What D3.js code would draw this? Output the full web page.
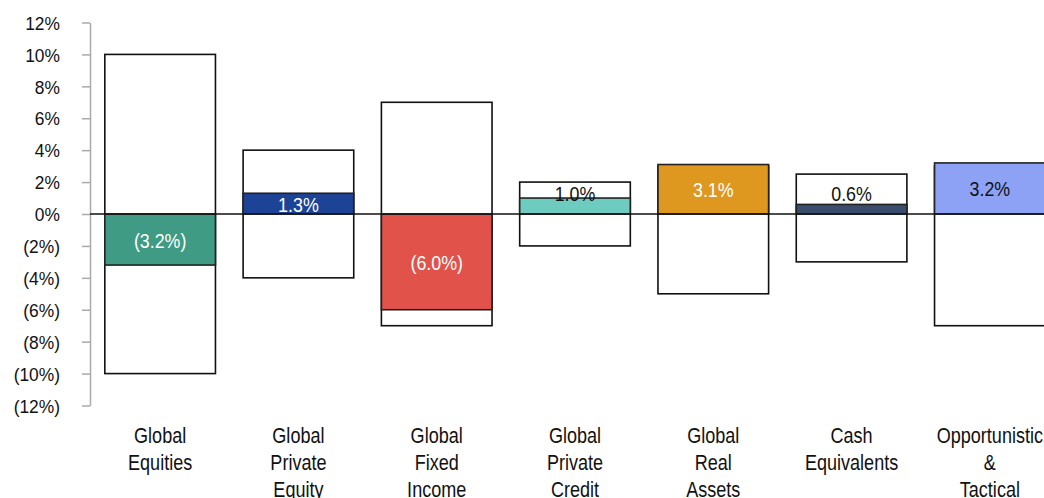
<!DOCTYPE html>
<html>
<head>
<meta charset="utf-8">
<script src="https://cdn.jsdelivr.net/npm/d3@7"></script>
<style>
  body { margin: 0; background: #fff; }
  svg text { font-family: "Liberation Sans", Arial, sans-serif; }
</style>
</head>
<body>
<svg id="chart"></svg>
<script>
// asset classes and the chart's values (percent)
const categories = [
    ['Global', 'Equities'],
    ['Global', 'Private', 'Equity'],
    ['Global', 'Fixed', 'Income'],
    ['Global', 'Private', 'Credit'],
    ['Global', 'Real', 'Assets'],
    ['Cash', 'Equivalents'],
    ['Opportunistic', '&', 'Tactical']
];
const rangeHigh = [10, 4, 7, 2, 3, 2.5, 3];
const rangeLow = [-10, -4, -7, -2, -5, -3, -7];
const values = [-3.2, 1.3, -6.0, 1.0, 3.1, 0.6, 3.2];
const colors = ['#3f9b83', '#1d4396', '#e0524a', '#6ecbbf', '#de971f', '#3b4d6d', '#8ea2f5'];
const labelColors = ['#fff', '#fff', '#fff', '#111', '#fff', '#111', '#111'];
const yTicks = [12, 10, 8, 6, 4, 2, 0, -2, -4, -6, -8, -10, -12];

const width = 1044, height = 498;
const svg = d3.select('#chart').attr('width', width).attr('height', height);

const fmt = v => v < 0 ? `(${Math.abs(v)}%)` : `${v}%`;
const fmt1 = v => v < 0 ? `(${Math.abs(v).toFixed(1)}%)` : `${v.toFixed(1)}%`;

// scales
const xScale = d3.scaleBand()
    .domain(d3.range(categories.length))
    .range([91, 1059])
    .paddingInner(0.2)
    .paddingOuter(0.1);

const yScale = d3.scaleLinear()
    .domain([-12, 12])
    .range([405.5, 22.5]);

const mid = i => xScale(i) + xScale.bandwidth() / 2;

// y axis
const yAxis = d3.axisLeft(yScale)
    .tickValues(yTicks)
    .tickSize(8)
    .tickSizeOuter(0)
    .tickFormat(fmt);

const yAxisG = svg.append('g')
    .attr('transform', 'translate(90,0)')
    .call(yAxis);
yAxisG.select('.domain').attr('stroke', '#aaa').attr('stroke-width', 1.5);
yAxisG.selectAll('.tick line').attr('stroke', '#aaa').attr('stroke-width', 1.5);
yAxisG.selectAll('.tick text')
    .attr('x', 0)
    .attr('dy', '0.36em')
    .attr('transform', 'translate(-30,0) scale(0.93,1)')
    .attr('fill', '#111')
    .style('font-size', '18.7px');

const idx = d3.range(categories.length);

// range boxes
svg.selectAll('.range-box')
    .data(idx)
  .join('rect')
    .attr('class', 'range-box')
    .attr('x', i => xScale(i))
    .attr('width', xScale.bandwidth())
    .attr('y', i => yScale(rangeHigh[i]))
    .attr('height', i => yScale(rangeLow[i]) - yScale(rangeHigh[i]))
    .attr('fill', '#fff')
    .attr('stroke', '#111')
    .attr('stroke-width', 1.6);

// value bars
svg.selectAll('.value-bar')
    .data(idx)
  .join('rect')
    .attr('class', 'value-bar')
    .attr('x', i => xScale(i))
    .attr('width', xScale.bandwidth())
    .attr('y', i => yScale(Math.max(0, values[i])))
    .attr('height', i => Math.abs(yScale(values[i]) - yScale(0)))
    .attr('fill', i => colors[i])
    .attr('stroke', '#222')
    .attr('stroke-width', 1.6);

// zero line
svg.append('line')
    .attr('x1', 90)
    .attr('x2', width)
    .attr('y1', yScale(0))
    .attr('y2', yScale(0))
    .attr('stroke', '#111')
    .attr('stroke-width', 1.5);

// value labels (small bars: label sits just above the zero line)
const labelY = i => Math.abs(values[i]) < 1.2
    ? yScale(0) - 13
    : (yScale(values[i]) + yScale(0)) / 2 + 8;

svg.selectAll('.value-label')
    .data(idx)
  .join('text')
    .attr('class', 'value-label')
    .attr('transform', i => `translate(${mid(i)},${labelY(i)}) scale(0.85,1)`)
    .attr('text-anchor', 'middle')
    .attr('fill', i => labelColors[i])
    .style('font-size', '21px')
    .text(i => fmt1(values[i]));

// category labels, one text per line
svg.selectAll('.cat-label')
    .data(idx.flatMap(i => categories[i].map((t, k) => ({ i, t, k }))))
  .join('text')
    .attr('class', 'cat-label')
    .attr('transform', d => `translate(${mid(d.i)},${443 + d.k * 27}) scale(0.84,1)`)
    .attr('text-anchor', 'middle')
    .attr('fill', '#111')
    .style('font-size', '21.5px')
    .text(d => d.t);
</script>
</body>
</html>
